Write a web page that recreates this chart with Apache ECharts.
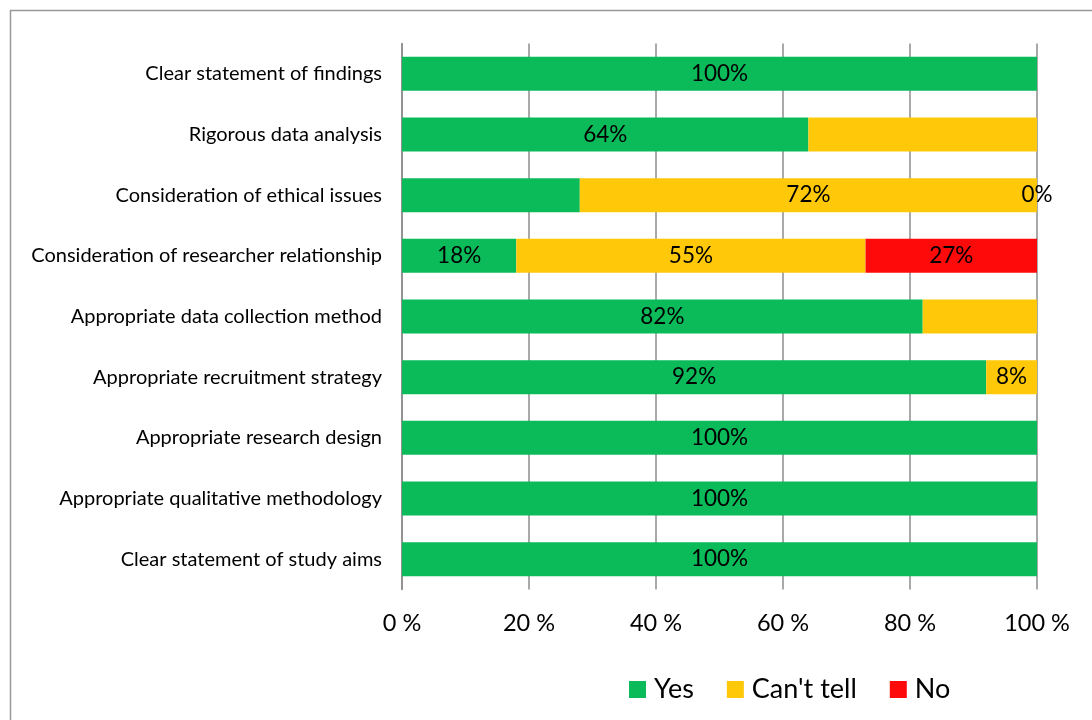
<!DOCTYPE html>
<html><head><meta charset="utf-8">
<script src="https://cdn.jsdelivr.net/npm/echarts@6/dist/echarts.min.js"></script>
<style>html,body{margin:0;padding:0;background:#fff}#c{width:1092px;height:720px}</style>
</head><body><div id="c"></div>
<script>
const categories = ["Clear statement of findings","Rigorous data analysis","Consideration of ethical issues","Consideration of researcher relationship","Appropriate data collection method","Appropriate recruitment strategy","Appropriate research design","Appropriate qualitative methodology","Clear statement of study aims"];
const yesValues = [100,64,28,18,82,92,100,100,100];
const cantTellValues = [0,36,72,55,18,8,0,0,0];
const noValues = [0,0,0,27,0,0,0,0,0];
const yesShowLabel = [true,true,false,true,true,true,true,true,true];
const cantShowLabel = [false,false,true,true,false,true,false,false,false];
const noShowLabel = [false,false,true,true,false,false,false,false,false];
const xTicks = [0,20,40,60,80,100];

const FONT = 'Lato';
function mk(vals, show){return vals.map((v,i)=>({value:v,label:{show:show[i]}}));}
const lbl = {position:'inside',color:'#000',fontFamily:FONT,fontSize:22.5,formatter:p=>p.value+'%'};
const chart = echarts.init(document.getElementById('c'),null,{renderer:'canvas'});
chart.setOption({
  animation:false,
  graphic:[{type:'rect',shape:{x:10.5,y:10.5,width:1200,height:800},style:{fill:'none',stroke:'#999',lineWidth:1.5}}],
  grid:{left:402,right:55,top:43.5,height:546},
  legend:{left:629,top:676,padding:0,itemWidth:17,itemHeight:17,itemGap:33,icon:'rect',
    textStyle:{fontFamily:FONT,fontSize:27,color:'#000',padding:[0,0,0,3]},
    data:['Yes',"Can't tell",'No']},
  xAxis:{type:'value',min:0,max:100,interval:20,
    axisLine:{show:false},axisTick:{show:false},
    splitLine:{lineStyle:{color:'#8c8c8c',width:1.5}},
    axisLabel:{fontFamily:FONT,fontSize:23.5,color:'#000',margin:22,formatter:v=>v+' %'}},
  yAxis:{type:'category',data:categories,inverse:true,
    axisLine:{lineStyle:{color:'#8c8c8c',width:1.5}},axisTick:{show:false},
    axisLabel:{fontFamily:FONT,fontSize:20,color:'#000',margin:20}},
  series:[
    {name:'Yes',type:'bar',stack:'a',barWidth:34,itemStyle:{color:'#0bbb5a'},label:lbl,data:mk(yesValues,yesShowLabel)},
    {name:"Can't tell",type:'bar',stack:'a',barWidth:34,itemStyle:{color:'#ffc90a'},label:lbl,data:mk(cantTellValues,cantShowLabel)},
    {name:'No',type:'bar',stack:'a',barWidth:34,itemStyle:{color:'#ff0a0a'},label:lbl,data:mk(noValues,noShowLabel)}
  ]
});
</script></body></html>
